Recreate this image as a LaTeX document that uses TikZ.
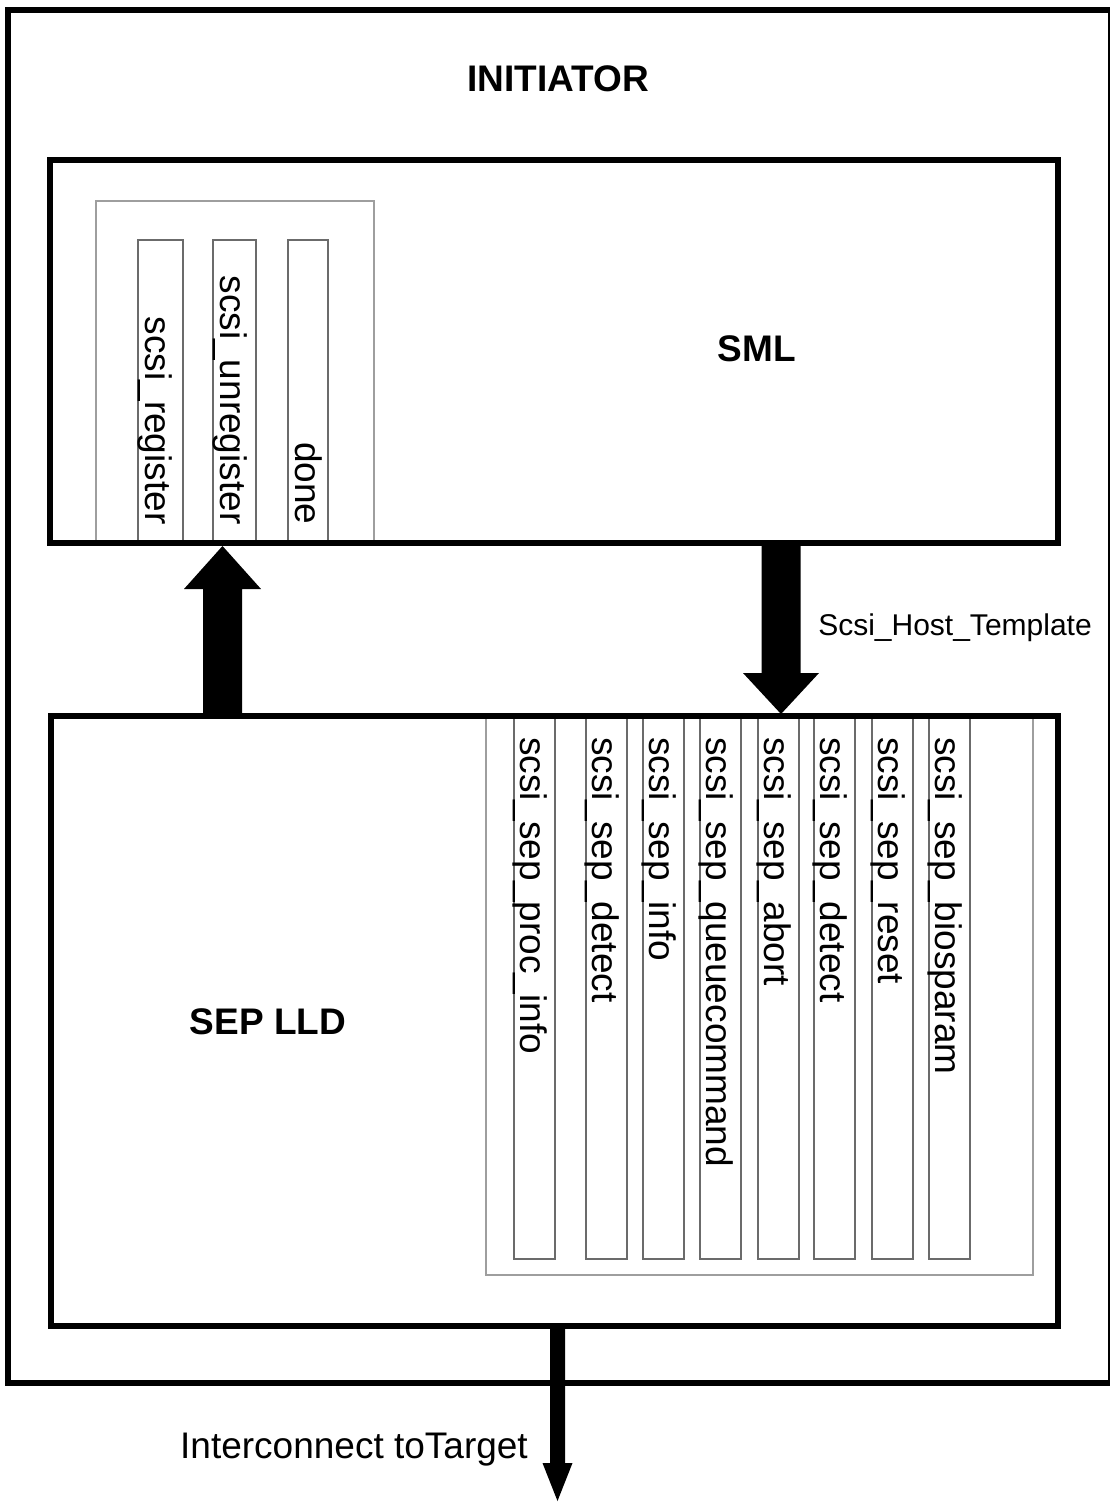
\documentclass[tikz,border=0pt]{standalone}
\usepackage{fontspec}
\setmainfont{Liberation Sans}
\usetikzlibrary{positioning,calc}
\definecolor{framegray}{gray}{0.62}
\definecolor{slotgray}{gray}{0.42}
\newcommand{\lblfont}{\fontsize{37}{40}\selectfont}
\newcommand{\tplfont}{\fontsize{30}{34}\selectfont}
% fat block arrow: foot, tip, shaft half width, head half width, head length
\newcommand{\fatarrow}[5]{%
  \coordinate (hb) at ($(#2)!#5!(#1)$);
  \fill ($(#1)!#3!90:(#2)$) -- ($(hb)!#3!90:(#2)$) -- ($(hb)!#4!90:(#2)$) -- (#2)
    -- ($(hb)!#4!-90:(#2)$) -- ($(hb)!#3!-90:(#2)$) -- ($(#1)!#3!-90:(#2)$) -- cycle;}

\begin{document}
\begin{tikzpicture}[x=1pt, y=-1pt,
    bigbox/.style={draw, line width=5.5pt, inner sep=0pt},
    holder/.style={draw=framegray, line width=1.6pt, inner sep=0pt, anchor=north west},
    slot/.style={draw=slotgray, line width=1.6pt, inner sep=0pt, anchor=north west},
    fn/.style={rotate=-90, inner sep=0pt, font=\lblfont},
    title/.style={font=\bfseries\lblfont}]
  \useasboundingbox (0,0) rectangle (1109,1502);

  \node[bigbox, minimum width=1103pt, minimum height=1373pt] (init) at (559.5,696.5) {};
  \node[title] (initlbl) at (558,79) {INITIATOR};

  % SML and its entry points
  \node[holder, minimum width=278pt, minimum height=343pt] (smlset) at (95,200) {};
  \foreach \x/\w/\nm/\txt in {137/45/reg/scsi\_register, 212/43/unreg/scsi\_unregister, 287/40/done/done} {
    \node[slot, minimum width=\w pt, minimum height=304pt] (\nm) at (\x,239) {};
    \node[fn, anchor=base east] (\nm-t) at ($(\nm.south west)+(8,-20)$) {\txt};
  }
  \node[bigbox, minimum width=1008pt, minimum height=383pt] (sml) at (554,351.5) {};
  \node[title] (smllbl) at (757,349) {SML};

  % SEP LLD and its host template
  \node[holder, minimum width=547pt, minimum height=558pt] (sepset) at (485,716) {};
  \foreach \x/\txt [count=\i] in {513/scsi\_sep\_proc\_info, 585/scsi\_sep\_detect,
      642/scsi\_sep\_info, 699/scsi\_sep\_queuecommand, 757/scsi\_sep\_abort,
      813/scsi\_sep\_detect, 871/scsi\_sep\_reset, 928/scsi\_sep\_biosparam} {
    \node[slot, minimum width=41pt, minimum height=542pt] (op\i) at (\x,716) {};
    \node[fn, anchor=base west] (op\i-t) at ($(op\i.north west)+(7,21)$) {\txt};
  }
  \node[bigbox, minimum width=1007pt, minimum height=610pt] (sep) at (554.5,1021) {};
  \node[title] (seplbl) at (268,1022) {SEP LLD};

  % arrows
  \coordinate (upfoot) at (222.5,716);
  \coordinate (uptip) at (222.5,546);
  \fatarrow{upfoot}{uptip}{19.5pt}{38.5pt}{43pt}

  \coordinate (dnfoot) at (781,543);
  \coordinate (dntip) at (781,714);
  \fatarrow{dnfoot}{dntip}{19.5pt}{38pt}{41pt}
  \node[font=\tplfont] (tpl) at (955,628) {Scsi\_Host\_Template};

  \coordinate (netfoot) at (557.5,1329);
  \coordinate (nettip) at (557.5,1501);
  \fatarrow{netfoot}{nettip}{7.5pt}{15pt}{38pt}
  \node[font=\lblfont] (net) at (354,1450) {Interconnect toTarget};
\end{tikzpicture}
\end{document}
